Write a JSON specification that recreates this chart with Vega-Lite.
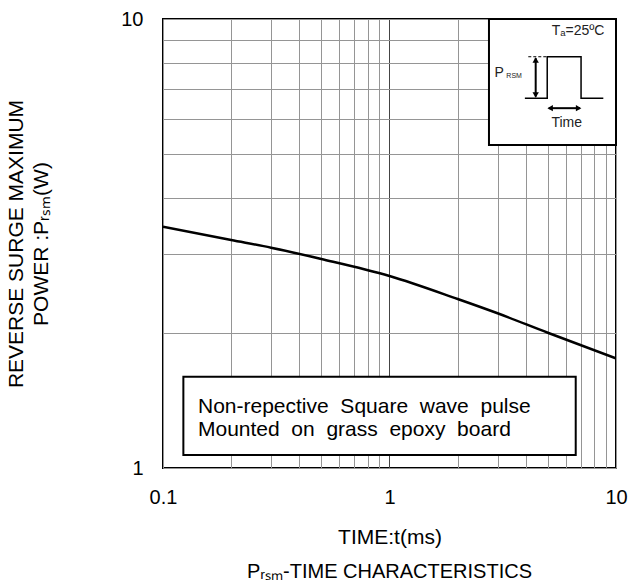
{
  "$schema": "https://vega.github.io/schema/vega-lite/v6.json",
  "width": 453,
  "height": 449,
  "autosize": {"type": "none"},
  "padding": {"left": 163, "top": 19, "right": 15, "bottom": 119},
  "background": "white",
  "config": {
    "font": "Liberation Sans",
    "view": {"stroke": "black", "strokeWidth": 2},
    "axis": {"domain": false, "ticks": false, "labelFontSize": 20, "labelColor": "black", "titleColor": "black", "titleFontWeight": "normal", "titleFontSize": 21, "gridWidth": 1}
  },
  "title": {"text": "Pᵣₛₘ-TIME CHARACTERISTICS", "orient": "bottom", "fontSize": 20, "fontWeight": "normal", "color": "black", "offset": 15},
  "datasets": {
    "curve": [
      {"t": 0.1, "p": 3.446}, {"t": 0.2, "p": 3.219}, {"t": 0.3, "p": 3.095}, {"t": 0.5, "p": 2.921},
      {"t": 1, "p": 2.677}, {"t": 2, "p": 2.379}, {"t": 3, "p": 2.211}, {"t": 5, "p": 2.001},
      {"t": 10, "p": 1.755}
    ],
    "boxes": [
      {"name": "note", "x1": 0.123, "x2": 6.64, "y1": 1.069, "y2": 1.597},
      {"name": "inset", "x1": 2.749, "x2": 10, "y1": 5.24, "y2": 10}
    ],
    "notes": [
      {"t": 0.1427, "p": 1.37, "label": "Non-repective \u00a0Square \u00a0wave \u00a0pulse"},
      {"t": 0.1427, "p": 1.215, "label": "Mounted \u00a0on \u00a0grass \u00a0epoxy \u00a0board"}
    ],
    "pulse": [
      {"i": 1, "t": 3.96, "p": 6.66}, {"i": 2, "t": 4.97, "p": 6.66}, {"i": 3, "t": 4.97, "p": 8.24},
      {"i": 4, "t": 7.01, "p": 8.24}, {"i": 5, "t": 7.01, "p": 6.66}, {"i": 6, "t": 8.79, "p": 6.66}
    ],
    "arrows": [
      {"t": 4.42, "t2": 4.42, "p": 6.72, "p2": 8.18},
      {"t": 5.05, "t2": 6.93, "p": 6.33, "p2": 6.33}
    ],
    "heads": [
      {"t": 4.42, "p": 8.1, "shape": "triangle-up"},
      {"t": 4.42, "p": 6.77, "shape": "triangle-down"},
      {"t": 5.12, "p": 6.33, "shape": "triangle-left"},
      {"t": 6.84, "p": 6.33, "shape": "triangle-right"}
    ],
    "insetText": [
      {"t": 6.80, "p": 9.38, "label": "Tₐ=25ºC", "size": 14},
      {"t": 6.06, "p": 5.86, "label": "Time", "size": 14},
      {"t": 3.05, "p": 7.57, "label": "P", "size": 14},
      {"t": 3.55, "p": 7.45, "label": "RSM", "size": 7}
    ]
  },
  "layer": [
    {
      "data": {"name": "curve"},
      "mark": {"type": "line", "color": "black", "strokeWidth": 2.5, "clip": true, "interpolate": "monotone"},
      "encoding": {
        "x": {"field": "t", "type": "quantitative",
          "scale": {"type": "log", "domain": [0.1, 10], "nice": false},
          "axis": {"title": "TIME:t(ms)", "values": [0.1,0.2,0.3,0.4,0.5,0.6,0.7,0.8,0.9,1,2,3,4,5,6,7,8,9,10],
            "labelExpr": "datum.value == 0.1 ? '0.1' : datum.value == 1 ? '1' : datum.value == 10 ? '10' : ''",
            "labelPadding": 19, "titlePadding": 19, "labelFlush": false, "labelOverlap": false,
            "gridColor": {"condition": {"test": "datum.value == 1", "value": "#444444"}, "value": "#959595"}}},
        "y": {"field": "p", "type": "quantitative",
          "scale": {"type": "log", "domain": [1, 10], "nice": false},
          "axis": {"title": ["REVERSE SURGE MAXIMUM", "POWER :Pᵣₛₘ(W)"], "values": [1,2,3,4,5,6,7,8,9,10],
            "labelExpr": "datum.value == 1 ? '1' : datum.value == 10 ? '10' : ''",
            "labelPadding": 20, "titlePadding": 69, "titleLineHeight": 25, "labelFlush": false, "labelOverlap": false,
            "gridColor": "#959595"}}
      }
    },
    {
      "data": {"name": "boxes"},
      "mark": {"type": "rect", "fill": "white", "stroke": "black", "strokeWidth": 2},
      "encoding": {
        "x": {"field": "x1", "type": "quantitative"}, "x2": {"field": "x2"},
        "y": {"field": "y1", "type": "quantitative"}, "y2": {"field": "y2"}
      }
    },
    {
      "data": {"name": "notes"},
      "mark": {"type": "text", "align": "left", "baseline": "middle", "fontSize": 21, "color": "black"},
      "encoding": {
        "x": {"field": "t", "type": "quantitative"},
        "y": {"field": "p", "type": "quantitative"},
        "text": {"field": "label"}
      }
    },
    {
      "data": {"name": "pulse"},
      "mark": {"type": "line", "color": "black", "strokeWidth": 1.5},
      "encoding": {
        "x": {"field": "t", "type": "quantitative"},
        "y": {"field": "p", "type": "quantitative"},
        "order": {"field": "i"}
      }
    },
    {
      "data": {"values": [{"t": 4.1, "t2": 4.97, "p": 8.24, "p2": 8.24}]},
      "mark": {"type": "rule", "color": "black", "strokeWidth": 1, "strokeDash": [3, 2]},
      "encoding": {
        "x": {"field": "t", "type": "quantitative"}, "x2": {"field": "t2"},
        "y": {"field": "p", "type": "quantitative"}, "y2": {"field": "p2"}
      }
    },
    {
      "data": {"name": "arrows"},
      "mark": {"type": "rule", "color": "black", "strokeWidth": 2},
      "encoding": {
        "x": {"field": "t", "type": "quantitative"}, "x2": {"field": "t2"},
        "y": {"field": "p", "type": "quantitative"}, "y2": {"field": "p2"}
      }
    },
    {
      "data": {"name": "heads"},
      "mark": {"type": "point", "filled": true, "color": "black", "size": 40, "opacity": 1},
      "encoding": {
        "x": {"field": "t", "type": "quantitative"},
        "y": {"field": "p", "type": "quantitative"},
        "shape": {"field": "shape", "type": "nominal", "scale": null}
      }
    },
    {
      "data": {"name": "insetText"},
      "mark": {"type": "text", "baseline": "middle", "align": "center", "color": "#222222"},
      "encoding": {
        "x": {"field": "t", "type": "quantitative"},
        "y": {"field": "p", "type": "quantitative"},
        "text": {"field": "label"},
        "size": {"field": "size", "type": "quantitative", "scale": null}
      }
    }
  ]
}
